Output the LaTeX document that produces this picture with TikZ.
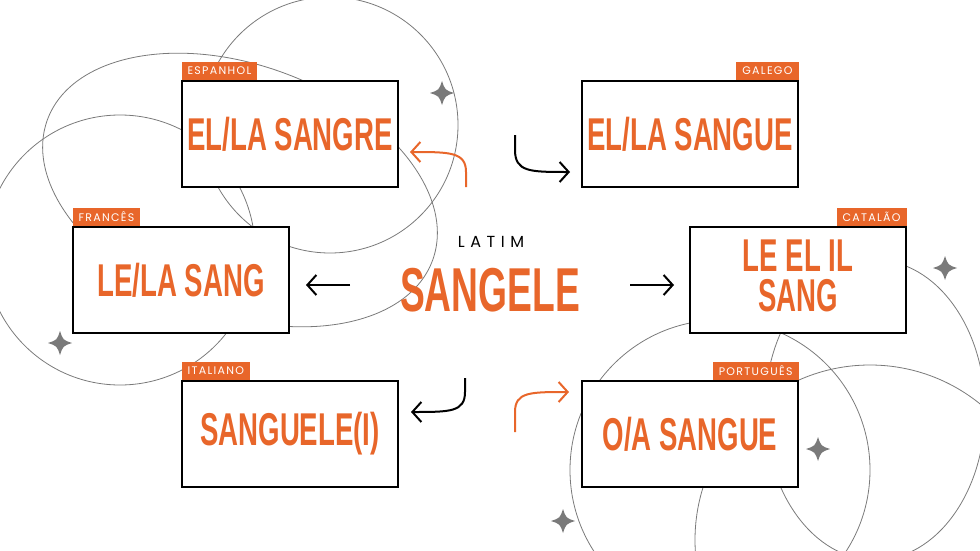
\documentclass[tikz,border=0pt]{standalone}
\usepackage{fontspec}
\setmainfont{Liberation Sans}
\newfontfamily\tabfont[LetterSpace=12]{Poppins}
\newfontfamily\latfont[LetterSpace=35]{Poppins}
\definecolor{orng}{HTML}{E8662A}
\definecolor{gry}{HTML}{7A7A7A}
\usetikzlibrary{arrows.meta,calc}
\newcommand\bigword[1]{\scalebox{0.6}[1]{\fontsize{46}{40}\selectfont\bfseries #1}}
\tikzset{
 word/.style={draw=black,line width=1.4pt,minimum width=216pt,minimum height=106pt,text=orng,align=center,fill=white},
 tab/.style={fill=orng,text=white,inner xsep=6pt,inner ysep=0pt,minimum height=18pt,font=\tabfont\fontsize{11}{11}\selectfont,anchor=south east},
 tabl/.style={tab,anchor=south west},
 arr/.style={line width=2pt,-{Straight Barb[length=9pt,width=20pt]}},
 deco/.style={draw=gry,line width=0.8pt}
}
\newcommand\spark[1]{\fill[gry] ($#1+(0,-12)$) .. controls ($#1+(3,-3)$) .. ($#1+(12,0)$) .. controls ($#1+(3,3)$) .. ($#1+(0,12)$) .. controls ($#1+(-3,3)$) .. ($#1+(-12,0)$) .. controls ($#1+(-3,-3)$) .. cycle;}
\begin{document}
\begin{tikzpicture}[x=1pt,y=-1pt]
\useasboundingbox (0,0) rectangle (980,551);
% decorative
\draw[deco] (330,125) circle [radius=128];
\draw[deco,rotate around={-20:(240,190)}] (240,190) ellipse [x radius=205,y radius=125];
\draw[deco] (120,250) circle [radius=135];
\draw[deco] (720,470) circle [radius=150];
\draw[deco] (875,410) ellipse [x radius=110,y radius=150];
\draw[deco] (870,540) circle [radius=175];
\spark{(442,93)}\spark{(60,343)}\spark{(945,268)}\spark{(818,449)}\spark{(563,521)}
% boxes
\node[word] (esp) at (290,134) {\bigword{EL/LA SANGRE}};
\node[word] (gal) at (690,134) {\bigword{EL/LA SANGUE}};
\node[word] (fra) at (181,280) {\bigword{LE/LA SANG}};
\node[word] (cat) at (798,280) {\scalebox{0.6}[1]{\fontsize{46}{27}\selectfont\bfseries\begin{tabular}{@{}c@{}}LE EL IL\\SANG\end{tabular}}};
\node[word] (ita) at (290,434) {\bigword{SANGUELE(I)}};
\node[word] (por) at (690,434) {\bigword{O/A SANGUE}};
\node[tabl] at (esp.north west) {ESPANHOL};
\node[tab] at (gal.north east) {GALEGO};
\node[tabl] at (fra.north west) {FRANCÊS};
\node[tab] at (cat.north east) {CATALÃO};
\node[tabl] at (ita.north west) {ITALIANO};
\node[tab] at (por.north east) {PORTUGUÊS};
% center
\node (lat) at (491,242) {\latfont\fontsize{16}{16}\selectfont LATIM};
\node[text=orng] (sg) at (490,290) {\scalebox{0.6}[1]{\fontsize{62}{62}\selectfont\bfseries SANGELE}};
% arrows
\coordinate (a1) at (466,187); \coordinate (b1) at (410,152);
\draw[arr,orng] (a1) -- (466,172) .. controls (466,152) and (450,152) .. (b1);
\coordinate (a2) at (515,135); \coordinate (b2) at (570,172);
\draw[arr] (a2) -- (515,150) .. controls (515,172) and (530,172) .. (b2);
\coordinate (a3) at (350,285); \coordinate (b3) at (306,285);
\draw[arr] (a3) -- (b3);
\coordinate (a6) at (630,285); \coordinate (b6) at (674,285);
\draw[arr] (a6) -- (b6);
\coordinate (a4) at (465,378); \coordinate (b4) at (411,412);
\draw[arr] (a4) -- (465,392) .. controls (465,412) and (450,412) .. (b4);
\coordinate (a5) at (515,432); \coordinate (b5) at (569,392);
\draw[arr,orng] (a5) -- (515,412) .. controls (515,392) and (530,392) .. (b5);
\end{tikzpicture}
\end{document}
